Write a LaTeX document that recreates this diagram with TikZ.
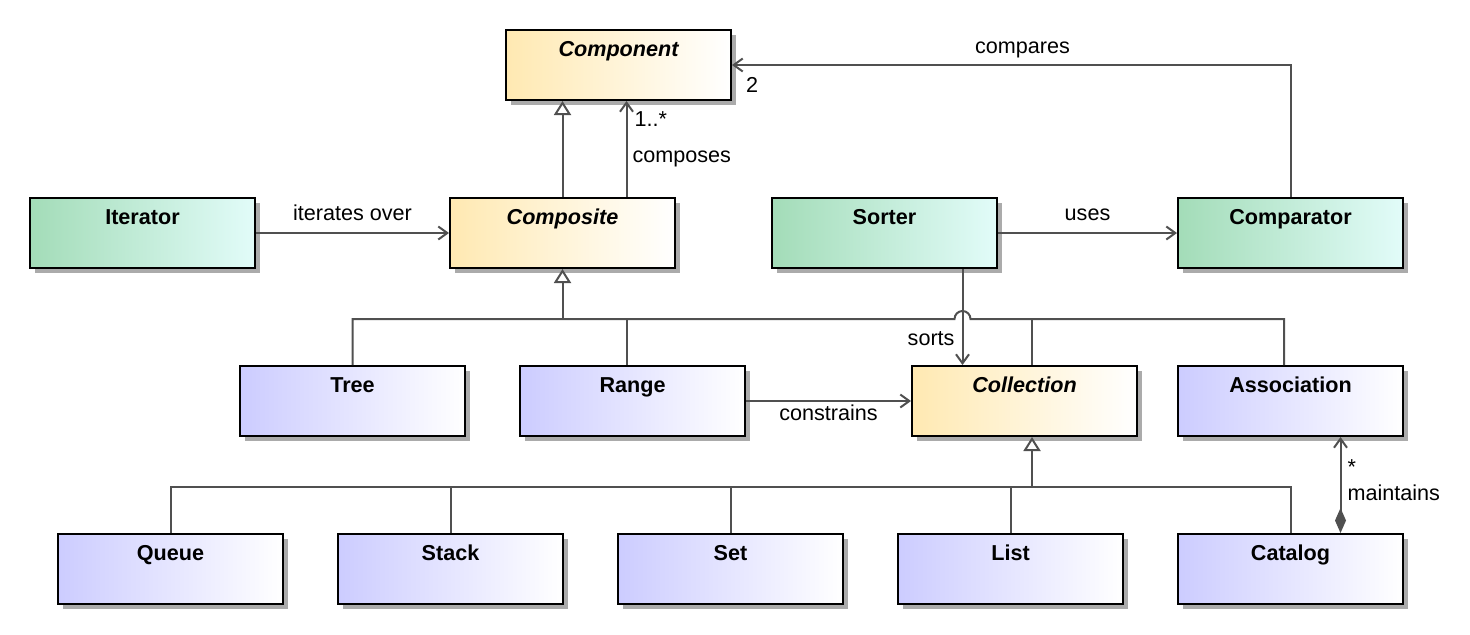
\documentclass[tikz,border=0pt]{standalone}
\usepackage{fontspec}
\setmainfont{Liberation Sans}
\usetikzlibrary{arrows.meta,shadows,calc}

\definecolor{abstractfill}{RGB}{255,233,178}
\definecolor{helperfill}{RGB}{163,220,184}
\definecolor{helperend}{RGB}{226,252,249}
\definecolor{concretefill}{RGB}{204,204,255}
\definecolor{wirecolor}{RGB}{80,80,80}

\tikzset{
  classbox/.style={draw=black, line width=1pt, minimum width=112.5pt, inner sep=0pt,
    text height=13pt, text depth=22pt, font=\fontsize{10.8}{13}\selectfont\bfseries,
    drop shadow={shadow xshift=2.5pt, shadow yshift=-2.5pt, fill=black!33, opacity=1}},
  abstractbox/.style={classbox, left color=abstractfill, right color=white,
    font=\fontsize{10.8}{13}\selectfont\bfseries\itshape},
  helperbox/.style={classbox, left color=helperfill, right color=helperend},
  concretebox/.style={classbox, left color=concretefill, right color=white},
  wire/.style={draw=wirecolor, line width=1pt},
  assoc/.style={wire, -{Straight Barb[length=4.5pt,width=6.5pt]}},
  inherit/.style={wire, -{Triangle[length=7pt,width=8.5pt,fill=white]}},
  owns/.style={wire, {Diamond[length=12.5pt,width=5.5pt]}-{Straight Barb[length=4.5pt,width=6.5pt]}},
  lbl/.style={font=\fontsize{10.8}{13}\selectfont, inner sep=1.5pt}
}

\begin{document}
\begin{tikzpicture}[x=0.5pt,y=-0.5pt]
  \useasboundingbox (0,0) rectangle (1470,634);

  % classes, top row
  \node[abstractbox] (component) at (618.5,65) {Component};
  \node[helperbox] (iterator) at (142.5,233) {Iterator};
  \node[abstractbox] (composite) at (562.5,233) {Composite};
  \node[helperbox] (sorter) at (884.5,233) {Sorter};
  \node[helperbox] (comparator) at (1290.5,233) {Comparator};
  % middle row
  \node[concretebox] (tree) at (352.5,401) {Tree};
  \node[concretebox] (range) at (632.5,401) {Range};
  \node[abstractbox] (collection) at (1024.5,401) {Collection};
  \node[concretebox] (association) at (1290.5,401) {Association};
  % bottom row
  \node[concretebox] (queue) at (170.5,569) {Queue};
  \node[concretebox] (stack) at (450.5,569) {Stack};
  \node[concretebox] (set) at (730.5,569) {Set};
  \node[concretebox] (list) at (1010.5,569) {List};
  \node[concretebox] (catalog) at (1290.5,569) {Catalog};

  % composite part
  \coordinate (composeFoot) at ($(composite.north)+(64,0)$);
  \draw[inherit] (composite.north) -- (composite.north |- component.south);
  \draw[assoc] (composeFoot) -- (composeFoot |- component.south)
    node[lbl, pos=0.40, right=1pt] {composes}
    node[lbl, pos=1, anchor=north west, xshift=2pt, yshift=-3.5pt] {1..*};
  \draw[assoc] (comparator.north) |- (component.east)
    node[lbl, pos=0.74, above=1.5pt] {compares}
    node[lbl, pos=1, anchor=north west, xshift=5pt, yshift=-4pt] {2};
  \draw[assoc] (iterator.east) -- (composite.west) node[lbl, midway, above=4pt] {iterates over};
  \draw[assoc] (sorter.east) -- (comparator.west) node[lbl, midway, above=4pt] {uses};

  % sorter and range
  \coordinate (sortsFoot) at ($(sorter.south)+(78,0)$);
  \draw[assoc] (sortsFoot) -- (sortsFoot |- collection.north) node[lbl, pos=0.72, left=2pt] {sorts};
  \draw[assoc] (range.east) -- (collection.west) node[lbl, midway, below=0pt] {constrains};

  % upper generalization bus
  \coordinate (upperBus) at ($(composite.south)+(0,50)$);
  \coordinate (rangeTop) at ($(range.north)+(-5.5,0)$);
  \coordinate (collectionTop) at ($(collection.north)+(7.5,0)$);
  \coordinate (associationTop) at ($(association.north)+(-6.5,0)$);
  \coordinate (jumpStart) at ($(sortsFoot |- upperBus)+(-8,0)$);
  \draw[wire] (tree.north) |- (jumpStart) arc[start angle=180, end angle=0, radius=4pt] -| (associationTop);
  \draw[wire] (rangeTop) -- (rangeTop |- upperBus);
  \draw[wire] (collectionTop) -- (collectionTop |- upperBus);
  \draw[inherit] (upperBus) -- (composite.south);

  % lower generalization bus
  \coordinate (lowerBus) at ($(collection.south)+(7.5,50)$);
  \draw[inherit] (lowerBus) -- (lowerBus |- collection.south);
  \draw[wire] (queue.north) |- (lowerBus) -| (catalog.north);
  \foreach \n in {stack,set,list}
    \draw[wire] (\n.north) -- (\n.north |- lowerBus);

  % catalog keeps associations
  \coordinate (maintainsFoot) at ($(catalog.north)+(50,0)$);
  \draw[owns] (maintainsFoot) -- (maintainsFoot |- association.south)
    node[lbl, pos=0.69, right=1.5pt] {*}
    node[lbl, pos=0.42, right=1.5pt] {maintains};
\end{tikzpicture}
\end{document}
